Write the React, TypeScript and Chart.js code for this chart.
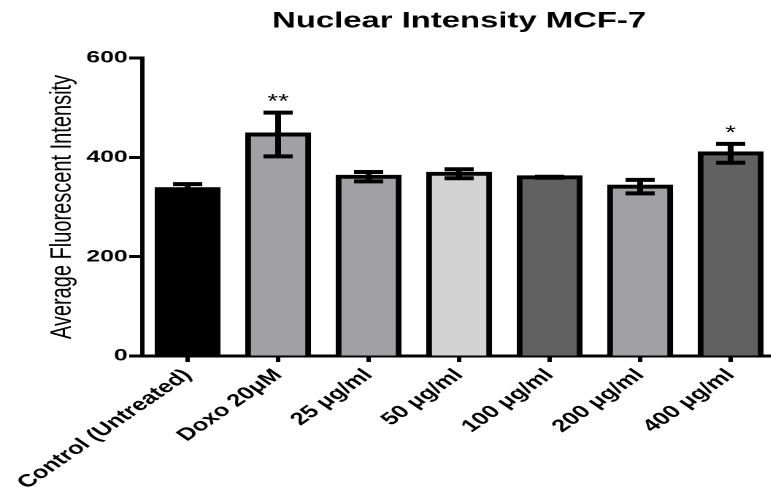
import React, { useEffect, useRef } from 'react';
import { Chart, registerables } from 'chart.js';

Chart.register(...registerables);

const categories = ['Control (Untreated)', 'Doxo 20μM', '25 μg/ml', '50 μg/ml', '100 μg/ml', '200 μg/ml', '400 μg/ml'];
const means = [336, 446, 361, 367, 360, 341, 408];
const sems = [10, 44, 9.5, 9, 1, 13.5, 19];
const significance = ['', '**', '', '', '', '', '*'];
const barColors = ['#000000', '#a1a1a5', '#a1a1a5', '#d3d3d3', '#616161', '#a1a1a5', '#616161'];
const yMin = 0;
const yMax = 600;
const yStep = 200;

const FONT = "'Liberation Sans', Arial, Helvetica, sans-serif";

// Logical drawing size; the picture is shown stretched horizontally like the reference.
const LOGICAL_W = 535;
const LOGICAL_H = 501;
const DISPLAY_W = 781;

const errorBarPlugin = {
  id: 'errorBars',
  afterDatasetsDraw(chart: any) {
    const ctx = chart.ctx;
    const meta = chart.getDatasetMeta(0);
    const y = chart.scales.y;
    ctx.save();
    ctx.strokeStyle = '#000';
    ctx.lineWidth = 4;
    ctx.lineCap = 'butt';
    meta.data.forEach((bar: any, i: number) => {
      const x = bar.x;
      const top = y.getPixelForValue(means[i] + sems[i]);
      const bot = y.getPixelForValue(means[i] - sems[i]);
      ctx.beginPath();
      ctx.moveTo(x, top);
      ctx.lineTo(x, bot);
      ctx.moveTo(x - 10, top);
      ctx.lineTo(x + 10, top);
      ctx.moveTo(x - 10, bot);
      ctx.lineTo(x + 10, bot);
      ctx.stroke();
      if (significance[i]) {
        ctx.font = `19px ${FONT}`;
        ctx.textAlign = 'center';
        ctx.textBaseline = 'alphabetic';
        ctx.fillStyle = '#000';
        ctx.fillText(significance[i], x, top - 5);
      }
    });
    ctx.restore();
  },
};

export default function App() {
  const canvasRef = useRef<HTMLCanvasElement | null>(null);

  useEffect(() => {
    const canvas = canvasRef.current;
    if (!canvas) return;
    const chart = new Chart(canvas, {
      type: 'bar',
      data: {
        labels: categories,
        datasets: [
          {
            data: means,
            backgroundColor: barColors,
            borderColor: '#000000',
            borderWidth: 4,
            borderSkipped: 'start',
            inflateAmount: 2,
            barPercentage: 0.665,
            categoryPercentage: 1,
          } as any,
        ],
      },
      options: {
        responsive: false,
        animation: false,
        devicePixelRatio: 2,
        layout: { padding: { left: 0, right: 3.5, top: 0, bottom: 0 } },
        plugins: {
          legend: { display: false },
          tooltip: { enabled: false },
          title: {
            display: true,
            text: 'Nuclear Intensity MCF-7',
            color: '#000',
            fullSize: false,
            font: { family: FONT, size: 22.5, weight: 'bold' },
            padding: { top: 7.8, bottom: 23.2 },
          },
        },
        scales: {
          x: {
            type: 'category',
            offset: true,
            grid: {
              display: true,
              drawOnChartArea: false,
              drawTicks: true,
              tickLength: 6,
              tickWidth: 3,
              tickColor: '#000',
              offset: false,
            },
            border: { display: true, color: '#000', width: 3 },
            ticks: {
              color: '#000',
              font: { family: FONT, size: 17.5, weight: 'bold' },
              minRotation: 45,
              maxRotation: 45,
              autoSkip: false,
              padding: 3,
            },
            afterFit: (s: any) => {
              s.height = 145;
            },
          },
          y: {
            min: yMin,
            max: yMax,
            ticks: {
              stepSize: yStep,
              color: '#000',
              font: { family: FONT, size: 17, weight: 'bold' },
              padding: 1,
            },
            grid: {
              display: true,
              drawOnChartArea: false,
              drawTicks: true,
              tickLength: 9,
              tickWidth: 3,
              tickColor: '#000',
            },
            border: { display: true, color: '#000', width: 3 },
            title: {
              display: true,
              text: 'Average Fluorescent Intensity',
              color: '#000',
              font: { family: FONT, size: 20, weight: 'normal' },
              padding: { top: 31, bottom: 0 },
            },
            afterFit: (s: any) => {
              s.width = 97.5;
            },
          },
        },
      } as any,
      plugins: [errorBarPlugin],
    });
    return () => chart.destroy();
  }, []);

  return (
    <div
      style={{
        position: 'fixed',
        left: 0,
        top: 0,
        width: '771px',
        height: '501px',
        overflow: 'hidden',
        background: '#ffffff',
      }}
    >
      <canvas
        ref={canvasRef}
        width={LOGICAL_W}
        height={LOGICAL_H}
        style={{ width: `${DISPLAY_W}px`, height: `${LOGICAL_H}px`, display: 'block' }}
      />
    </div>
  );
}
